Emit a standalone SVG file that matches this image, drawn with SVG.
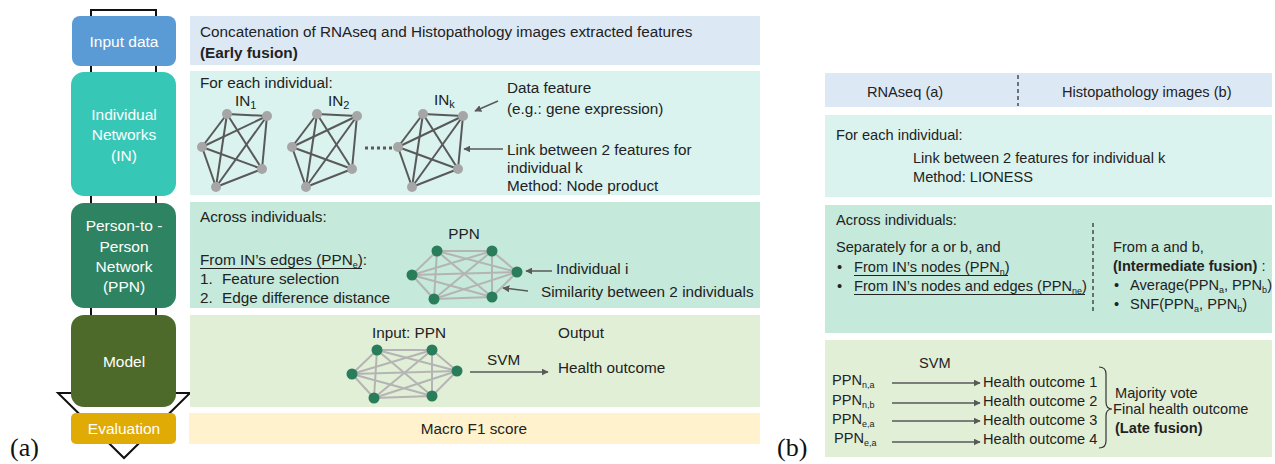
<svg xmlns="http://www.w3.org/2000/svg" xmlns:xlink="http://www.w3.org/1999/xlink" width="1275" height="464" viewBox="0 0 1275 464">
  <style>
    text { font-family: "Liberation Sans", Arial, sans-serif; fill: #222; }
    .t { font-size: 15.3px; }
    .tb { font-size: 14.6px; }
    .b { font-weight: bold; }
    .w { font-size: 15.5px; fill: #fff; text-anchor: middle; }
    .mid { text-anchor: middle; }
    .ul { stroke: #222; stroke-width: 1; }
    .lbl { font-family: "Liberation Serif", "Times New Roman", serif; font-size: 26px; fill: #111; }
    .frame { fill: none; stroke: #111; stroke-width: 2; }
    .arr { fill: none; stroke: #595959; stroke-width: 1.5; marker-end: url(#head); }
    .inE { stroke: #595959; stroke-width: 2; }
    .inN { fill: #a6a6a6; }
    .ppE { stroke: #b4b4b4; stroke-width: 2; }
    .ppN { fill: #2a7d5a; }
    .dash { stroke: #333; stroke-width: 1.3; stroke-dasharray: 4 3; }
    .brace { fill: none; stroke: #333; stroke-width: 1.2; }
  </style>
  <defs>
    <marker id="head" viewBox="0 0 10 10" refX="9" refY="5" markerWidth="7" markerHeight="7" markerUnits="userSpaceOnUse" orient="auto">
      <path d="M0,0 L10,5 L0,10 Z" fill="#595959"/>
    </marker>
    <!-- individual network: complete graph on 5 features -->
    <g id="inNet">
      <g class="inE">
        <line x1="227" y1="114" x2="267" y2="116"/>
        <line x1="227" y1="114" x2="202" y2="147"/>
        <line x1="227" y1="114" x2="262" y2="169"/>
        <line x1="227" y1="114" x2="216" y2="187"/>
        <line x1="267" y1="116" x2="202" y2="147"/>
        <line x1="267" y1="116" x2="262" y2="169"/>
        <line x1="267" y1="116" x2="216" y2="187"/>
        <line x1="202" y1="147" x2="262" y2="169"/>
        <line x1="202" y1="147" x2="216" y2="187"/>
        <line x1="262" y1="169" x2="216" y2="187"/>
      </g>
      <g class="inN">
        <circle cx="227" cy="114" r="5"/>
        <circle cx="267" cy="116" r="5"/>
        <circle cx="202" cy="147" r="5"/>
        <circle cx="262" cy="169" r="5"/>
        <circle cx="216" cy="187" r="5"/>
      </g>
    </g>
    <!-- person-to-person network: complete graph on 6 individuals -->
    <g id="ppnNet">
      <g class="ppE">
        <line x1="437" y1="251" x2="492" y2="251"/>
        <line x1="437" y1="251" x2="412" y2="275"/>
        <line x1="437" y1="251" x2="517" y2="272"/>
        <line x1="437" y1="251" x2="434" y2="299"/>
        <line x1="437" y1="251" x2="492" y2="297"/>
        <line x1="492" y1="251" x2="412" y2="275"/>
        <line x1="492" y1="251" x2="517" y2="272"/>
        <line x1="492" y1="251" x2="434" y2="299"/>
        <line x1="492" y1="251" x2="492" y2="297"/>
        <line x1="412" y1="275" x2="517" y2="272"/>
        <line x1="412" y1="275" x2="434" y2="299"/>
        <line x1="412" y1="275" x2="492" y2="297"/>
        <line x1="517" y1="272" x2="434" y2="299"/>
        <line x1="517" y1="272" x2="492" y2="297"/>
        <line x1="434" y1="299" x2="492" y2="297"/>
      </g>
      <g class="ppN">
        <circle cx="437" cy="251" r="5.5"/>
        <circle cx="492" cy="251" r="5.5"/>
        <circle cx="412" cy="275" r="5.5"/>
        <circle cx="517" cy="272" r="5.5"/>
        <circle cx="434" cy="299" r="5.5"/>
        <circle cx="492" cy="297" r="5.5"/>
      </g>
    </g>
  </defs>

  <rect width="1275" height="464" fill="#fff"/>

  <!-- ===== (a) pipeline ===== -->
  <g id="connectors-a">
    <!-- block arrow outline running through the pipeline stages -->
    <path class="frame" d="M91,393 V10 H156 V393 H190 L124,458 L58,393 Z"/>
  </g>

  <!-- detail panels -->
  <g id="panel-input">
    <rect x="190" y="16" width="570" height="49" fill="#dde8f5"/>
    <text class="t" x="200" y="37">Concatenation of RNAseq and Histopathology images extracted features</text>
    <text class="t b" x="200" y="58">(Early fusion)</text>
  </g>

  <g id="panel-in">
    <rect x="190" y="71" width="570" height="124" fill="#daf3ef"/>
    <text class="t" x="200" y="88">For each individual:</text>
    <use xlink:href="#inNet"/>
    <use xlink:href="#inNet" transform="translate(90,0)"/>
    <use xlink:href="#inNet" transform="translate(196,0)"/>
    <line x1="365" y1="148" x2="393" y2="148" stroke="#595959" stroke-width="3" stroke-dasharray="3 3"/>
    <text class="t" x="235" y="106">IN<tspan font-size="11" dy="3">1</tspan></text>
    <text class="t" x="328" y="106">IN<tspan font-size="11" dy="3">2</tspan></text>
    <text class="t" x="434" y="105">IN<tspan font-size="11" dy="3">k</tspan></text>
    <text class="t" x="507" y="93">Data feature</text>
    <text class="t" x="507" y="114">(e.g.: gene expression)</text>
    <text class="t" x="507" y="155">Link between 2 features for</text>
    <text class="t" x="507" y="173">individual k</text>
    <text class="t" x="507" y="191">Method: Node product</text>
  </g>

  <g id="panel-ppn">
    <rect x="190" y="202" width="570" height="106" fill="#c5e9da"/>
    <text class="t" x="200" y="222">Across individuals:</text>
    <text class="t mid" x="464" y="239">PPN</text>
    <text class="t" x="200" y="265">From IN’s edges (PPN<tspan font-size="9" dy="3">e</tspan><tspan dy="-3">):</tspan></text>
    <line class="ul" x1="200" y1="268.5" x2="362" y2="268.5"/>
    <text class="t" x="200" y="284">1.</text>
    <text class="t" x="222" y="284">Feature selection</text>
    <text class="t" x="200" y="303">2.</text>
    <text class="t" x="222" y="303">Edge difference distance</text>
    <use xlink:href="#ppnNet"/>
    <text class="t" x="556" y="274">Individual i</text>
    <text class="t" x="541" y="297">Similarity between 2 individuals</text>
  </g>

  <g id="panel-model">
    <rect x="190" y="315" width="570" height="92" fill="#e2efd7"/>
    <text class="t" x="372" y="338">Input: PPN</text>
    <text class="t" x="558" y="338">Output</text>
    <use xlink:href="#ppnNet" transform="translate(-60,99)"/>
    <text class="t" x="487" y="365">SVM</text>
    <text class="t" x="558" y="373">Health outcome</text>
  </g>

  <g id="panel-eval">
    <rect x="189" y="413" width="571" height="31" fill="#fff2cc"/>
    <text class="t mid" x="474" y="434">Macro F1 score</text>
  </g>

  <!-- stage boxes -->
  <g id="node-input">
    <rect x="72" y="16" width="104" height="50" rx="8" fill="#5b9bd5"/>
    <text class="w" x="124" y="47">Input data</text>
  </g>
  <g id="node-in">
    <rect x="71" y="72" width="105" height="124" rx="13" fill="#37c7b7"/>
    <text class="w" x="124" y="120">Individual</text>
    <text class="w" x="124" y="140">Networks</text>
    <text class="w" x="124" y="161">(IN)</text>
  </g>
  <g id="node-ppn">
    <rect x="71" y="203" width="105" height="105" rx="13" fill="#2e8462"/>
    <text class="w" x="124" y="231">Person-to -</text>
    <text class="w" x="124" y="252">Person</text>
    <text class="w" x="124" y="272">Network</text>
    <text class="w" x="124" y="292">(PPN)</text>
  </g>
  <g id="node-model">
    <rect x="71" y="315" width="105" height="92" rx="13" fill="#4e6a2b"/>
    <text class="w" x="124" y="367">Model</text>
  </g>
  <g id="node-eval">
    <rect x="71" y="413" width="105" height="31" rx="5" fill="#e0ab04"/>
    <text class="w" x="124" y="434">Evaluation</text>
  </g>

  <g id="arrows-a">
    <line class="arr" x1="498" y1="101" x2="475" y2="111"/>
    <line class="arr" x1="503" y1="149" x2="464" y2="149"/>
    <line class="arr" x1="552" y1="271" x2="526" y2="271"/>
    <line class="arr" x1="528" y1="291" x2="503" y2="288"/>
    <line class="arr" x1="470" y1="372" x2="548" y2="372"/>
  </g>

  <text class="lbl" x="10" y="456">(a)</text>

  <!-- ===== (b) multimodal variant ===== -->
  <g id="panel-b-input">
    <rect x="825" y="73" width="447" height="34" fill="#dde8f5"/>
    <text class="tb" x="867" y="97">RNAseq (a)</text>
    <text class="tb" x="1062" y="97">Histopathology images (b)</text>
  </g>

  <g id="panel-b-in">
    <rect x="825" y="115" width="447" height="82" fill="#daf3ef"/>
    <text class="tb" x="836" y="140">For each individual:</text>
    <text class="tb" x="913" y="163">Link between 2 features for individual k</text>
    <text class="tb" x="913" y="182">Method: LIONESS</text>
  </g>

  <g id="panel-b-ppn">
    <rect x="825" y="205" width="447" height="128" fill="#c5e9da"/>
    <text class="tb" x="836" y="225">Across individuals:</text>
    <text class="tb" x="836" y="252">Separately for a or b, and</text>
    <text class="tb" x="837" y="272">•</text>
    <text class="tb" x="854" y="272">From IN’s nodes (PPN<tspan font-size="9" dy="3">n</tspan><tspan dy="-3">)</tspan></text>
    <line class="ul" x1="854" y1="275.5" x2="1008" y2="275.5"/>
    <text class="tb" x="837" y="291">•</text>
    <text class="tb" x="854" y="291">From IN’s nodes and edges (PPN<tspan font-size="9" dy="3">ne</tspan><tspan dy="-3">)</tspan></text>
    <line class="ul" x1="854" y1="294.5" x2="1085" y2="294.5"/>
    <text class="tb" x="1113" y="252">From a and b,</text>
    <text class="tb" x="1113" y="271"><tspan class="b">(Intermediate fusion)</tspan> :</text>
    <text class="tb" x="1114" y="290">•</text>
    <text class="tb" x="1130" y="290">Average(PPN<tspan font-size="9" dy="3">a</tspan><tspan dy="-3">, PPN</tspan><tspan font-size="9" dy="3">b</tspan><tspan dy="-3">)</tspan></text>
    <text class="tb" x="1114" y="309">•</text>
    <text class="tb" x="1130" y="309">SNF(PPN<tspan font-size="9" dy="3">a</tspan><tspan dy="-3">, PPN</tspan><tspan font-size="9" dy="3">b</tspan><tspan dy="-3">)</tspan></text>
  </g>

  <g id="panel-b-model">
    <rect x="825" y="340" width="447" height="117" fill="#e2efd7"/>
    <text class="tb" x="919" y="368">SVM</text>
    <text class="tb" x="832" y="385">PPN<tspan font-size="9" dy="3">n,a</tspan></text>
    <text class="tb" x="832" y="405">PPN<tspan font-size="9" dy="3">n,b</tspan></text>
    <text class="tb" x="832" y="424">PPN<tspan font-size="9" dy="3">e,a</tspan></text>
    <text class="tb" x="834" y="443">PPN<tspan font-size="9" dy="3">e,a</tspan></text>
    <text class="tb" x="983" y="387">Health outcome 1</text>
    <text class="tb" x="983" y="406">Health outcome 2</text>
    <text class="tb" x="983" y="425">Health outcome 3</text>
    <text class="tb" x="983" y="444">Health outcome 4</text>
    <text class="tb" x="1115" y="398">Majority vote</text>
    <text class="tb" x="1113" y="414">Final health outcome</text>
    <text class="tb b" x="1115" y="433">(Late fusion)</text>
  </g>

  <g id="connectors-b">
    <line class="dash" x1="1018" y1="75" x2="1018" y2="106"/>
    <line class="dash" x1="1093" y1="223" x2="1093" y2="311"/>
    <line class="arr" x1="892" y1="383" x2="980" y2="383"/>
    <line class="arr" x1="892" y1="403" x2="980" y2="403"/>
    <line class="arr" x1="892" y1="421" x2="980" y2="421"/>
    <line class="arr" x1="892" y1="442" x2="980" y2="442"/>
    <path class="brace" d="M1099,367 Q1106,367 1106,374 L1106,402 Q1106,409 1112,409 Q1106,409 1106,416 L1106,441 Q1106,448 1099,448"/>
  </g>

  <text class="lbl" x="777" y="456">(b)</text>
</svg>
